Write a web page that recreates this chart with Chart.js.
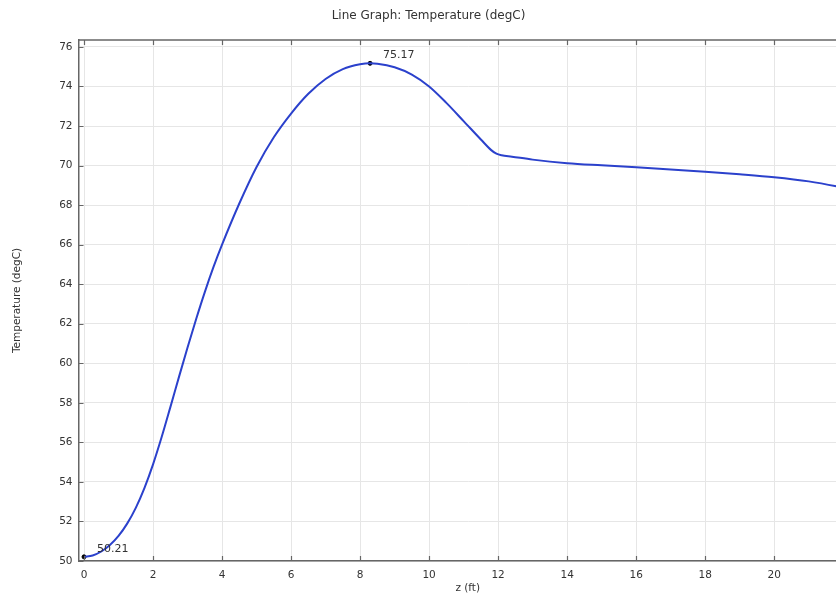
<!DOCTYPE html>
<html>
<head>
<meta charset="utf-8">
<script src="https://cdn.jsdelivr.net/npm/chart.js@4.4.1/dist/chart.umd.min.js"></script>
<style>
  html, body { margin: 0; padding: 0; background: #fff; overflow: hidden; }
  #wrap { width: 936px; height: 596px; }
</style>
</head>
<body>
<div id="wrap"><canvas id="temp-chart" width="936" height="596"></canvas></div>
<script>
// z position (ft) and temperature (degC)
const zVals = [0, 0.25, 0.5, 0.75, 1.0, 1.25, 1.5, 1.75, 2.0, 2.25, 2.5, 2.75, 3.0, 3.25, 3.5, 3.75, 4.0, 4.5, 5.0, 5.5, 6.0, 6.5, 7.0, 7.5, 8.0, 8.29, 8.5, 9.0, 9.5, 10.0, 10.5, 11.0, 11.5, 11.8, 11.95, 12.1, 12.4, 13.0, 14, 15, 16, 17, 18, 19, 20, 21, 21.8, 22.4];
const tempVals = [50.21, 50.28, 50.48, 50.81, 51.27, 51.89, 52.69, 53.69, 54.89, 56.27, 57.77, 59.3, 60.8, 62.24, 63.6, 64.86, 66.0, 68.08, 69.93, 71.43, 72.63, 73.63, 74.38, 74.88, 75.12, 75.17, 75.15, 74.97, 74.6, 74.0, 73.17, 72.25, 71.32, 70.78, 70.6, 70.52, 70.45, 70.3, 70.12, 70.01, 69.91, 69.8, 69.69, 69.56, 69.41, 69.2, 68.95, 68.72];

// marked points (min / max)
const markZ = [0, 8.29];
const markT = [50.21, 75.17];

const xTicks = [0, 2, 4, 6, 8, 10, 12, 14, 16, 18, 20, 22];
const yTicks = [50, 52, 54, 56, 58, 60, 62, 64, 66, 68, 70, 72, 74, 76];

const txtColor = '#333';
const fontFam = '"DejaVu Sans", sans-serif';

const ctx = document.getElementById('temp-chart').getContext('2d');

// inward tick marks + top frame, like the original plot
const frameTicks = {
	id: 'frameTicks',
	afterDraw(chart) {
		const c = chart.ctx;
		const a = chart.chartArea;
		const xs = chart.scales.x;
		const ys = chart.scales.y;
		c.save();
		c.strokeStyle = '#666';
		c.lineWidth = 1.5;
		c.beginPath();
		c.moveTo(a.left, a.top);
		c.lineTo(a.right, a.top);
		c.stroke();
		c.lineWidth = 1.2;
		c.beginPath();
		xTicks.forEach(v => {
			const px = Math.round(xs.getPixelForValue(v)) + 0.5;
			c.moveTo(px, a.bottom);
			c.lineTo(px, a.bottom - 5);
			c.moveTo(px, a.top);
			c.lineTo(px, a.top + 5);
		});
		yTicks.forEach(v => {
			const py = Math.round(ys.getPixelForValue(v)) + 0.5;
			c.moveTo(a.left, py);
			c.lineTo(a.left + 5, py);
		});
		c.stroke();
		c.restore();
	}
};

// value labels next to the marked points
const markLabels = {
	id: 'markLabels',
	afterDatasetsDraw(chart) {
		const c = chart.ctx;
		const xs = chart.scales.x;
		const ys = chart.scales.y;
		c.save();
		c.font = '11px ' + fontFam;
		c.fillStyle = txtColor;
		c.textBaseline = 'middle';
		markZ.forEach((z, i) => {
			const px = xs.getPixelForValue(z);
			const py = ys.getPixelForValue(markT[i]);
			c.fillText(markT[i].toFixed(2), px + 13, py - 8);
		});
		c.restore();
	}
};

const data = {
	datasets: [{
		data: zVals.map((z, i) => ({ x: z, y: tempVals[i] })),
		borderColor: '#2b41cc',
		borderWidth: 2,
		pointRadius: 0,
		cubicInterpolationMode: 'monotone',
		fill: false,
	}, {
		data: markZ.map((z, i) => ({ x: z, y: markT[i] })),
		showLine: false,
		pointRadius: 2,
		pointBackgroundColor: '#000',
		pointBorderColor: '#000',
	}],
};

const options = {
	responsive: false,
	animation: false,
	layout: { padding: { left: 0, right: 79, top: 0, bottom: 0 } },
	plugins: {
		legend: { display: false },
		tooltip: { enabled: false },
		title: {
			display: true,
			text: 'Line Graph: Temperature (degC)',
			color: txtColor,
			font: { family: fontFam, size: 12, weight: 'normal' },
			padding: { top: 9, bottom: 16.6 },
		},
	},
	scales: {
		x: {
			type: 'linear',
			min: -0.16,
			max: 22.4,
			afterBuildTicks: s => { s.ticks = xTicks.map(v => ({ value: v })); },
			afterFit: s => { s.height = 35; },
			grid: { color: '#e6e6e6', drawTicks: false },
			border: { color: '#666', width: 1.5 },
			ticks: { color: txtColor, padding: 8, maxRotation: 0, font: { family: fontFam, size: 10.5 } },
			title: {
				display: true,
				text: 'z (ft)',
				color: txtColor,
				font: { family: fontFam, size: 10.5 },
				padding: { top: 0, bottom: 1 },
			},
		},
		y: {
			min: 50,
			max: 76.35,
			afterBuildTicks: s => { s.ticks = yTicks.map(v => ({ value: v })); },
			afterFit: s => { s.width = 78.5; },
			grid: { color: '#e6e6e6', drawTicks: false },
			border: { color: '#666', width: 1.5 },
			ticks: { color: txtColor, padding: 6, font: { family: fontFam, size: 10.5 } },
			title: {
				display: true,
				text: 'Temperature (degC)',
				color: txtColor,
				font: { family: fontFam, size: 10.5 },
				padding: { top: 11, bottom: 0 },
			},
		},
	},
};

new Chart(ctx, {
	type: 'line',
	data: data,
	options: options,
	plugins: [frameTicks, markLabels],
});
</script>
</body>
</html>
